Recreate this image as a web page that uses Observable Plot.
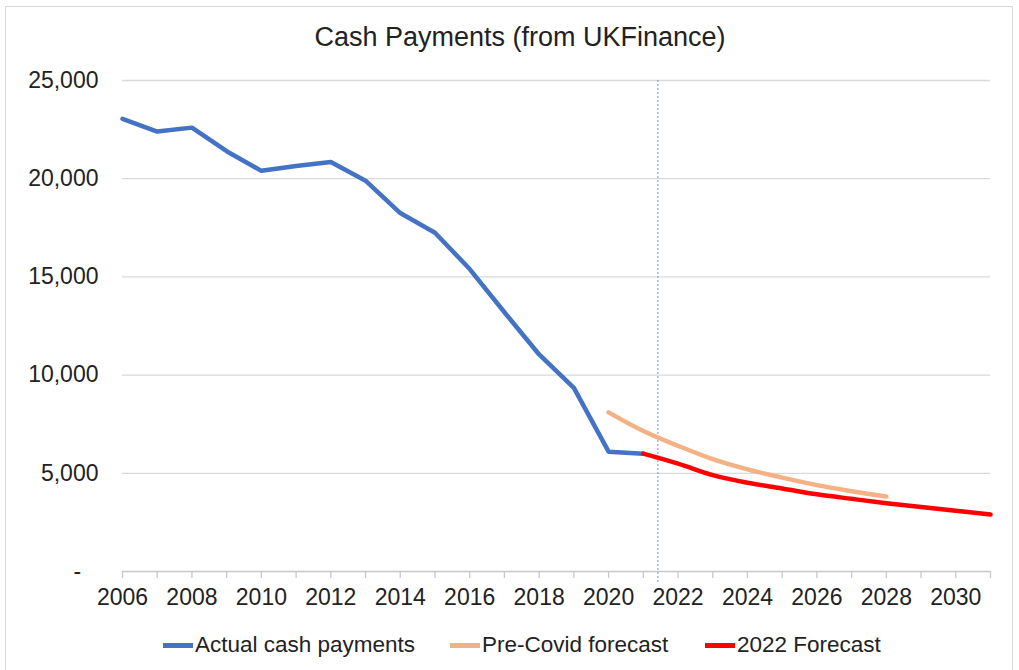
<!DOCTYPE html>
<html>
<head>
<meta charset="utf-8">
<script src="https://cdn.jsdelivr.net/npm/d3@7"></script>
<script src="https://cdn.jsdelivr.net/npm/@observablehq/plot@0.6"></script>
<style>
  html, body { margin: 0; padding: 0; background: #fff; }
  #frame { position: relative; width: 1019px; height: 670px; overflow: hidden;
           font-family: "Liberation Sans Narrow", "Arial Narrow", sans-serif; color: #222; }
  #border { position: absolute; left: 5px; top: 6px; width: 1008px; height: 700px;
            border: 1px solid #d9d9d9; box-sizing: border-box; }
  #title { position: absolute; left: 0; top: 22px; width: 1040px; text-align: center;
           font-size: 27px; color: #222; }
  #chart { position: absolute; left: 0; top: 60px; }
  #legend { position: absolute; top: 632px; left: 0; width: 1019px; height: 28px; }
  .item { position: absolute; display: flex; align-items: center; font-size: 22.5px; color: #222; }
  .sw { width: 30px; height: 5px; margin-right: 2px; }
</style>
</head>
<body>
<div id="frame">
  <div id="border"></div>
  <div id="title">Cash Payments (from UKFinance)</div>
  <div id="chart"></div>
  <div id="legend"></div>
</div>
<script>
const actualYears = [2006,2007,2008,2009,2010,2011,2012,2013,2014,2015,2016,2017,2018,2019,2020,2021];
const actualValues = [23050,22400,22600,21400,20400,20650,20850,19900,18250,17250,15400,13200,11050,9350,6100,6000];

const preCovidYears = [2020,2021,2022,2023,2024,2025,2026,2027,2028];
const preCovidValues = [8100,7150,6400,5720,5200,4780,4400,4090,3820];

const forecast2022Years = [2021,2022,2023,2024,2025,2026,2027,2028,2029,2030,2031];
const forecast2022Values = [6000,5490,4910,4520,4230,3930,3700,3480,3280,3090,2900];

const yTicks = [0,5000,10000,15000,20000,25000];
const xLabelTicks = [2006,2008,2010,2012,2014,2016,2018,2020,2022,2024,2026,2028,2030];
const xMinorTicks = d3.range(2006, 2032);
const markerYear = [2021.42];

const seriesNames = ["Actual cash payments","Pre-Covid forecast","2022 Forecast"];
const seriesColors = ["#4472C4","#F4B183","#FF0000"];

const toRows = (ys, vs) => ys.map((y, i) => ({year: y, value: vs[i]}));
const actual = toRows(actualYears, actualValues);
const pre = toRows(preCovidYears, preCovidValues);
const f22 = toRows(forecast2022Years, forecast2022Values);

const fmt = d3.format(",");
const plot = Plot.plot({
  width: 1019,
  height: 556,
  marginTop: 20,
  marginLeft: 122,
  marginRight: 29,
  marginBottom: 45,
  style: {fontFamily: '"Liberation Sans Narrow", "Arial Narrow", sans-serif', fontSize: "23px", color: "#222", background: "transparent"},
  x: {domain: [2006, 2031], type: "linear"},
  y: {domain: [0, 25000]},
  marks: [
    Plot.gridY(yTicks.filter(d => d > 0), {stroke: "#d9d9d9", strokeOpacity: 1, strokeWidth: 1.3}),
    Plot.ruleY([0], {stroke: "#c8c8c8", strokeWidth: 1.3}),
    Plot.axisX(xMinorTicks, {tickSize: 7, stroke: "#c8c8c8", strokeWidth: 1.3, tickFormat: () => "", label: null}),
    Plot.axisX(xLabelTicks, {tickSize: 0, tickPadding: 17, tickFormat: d => String(d), label: null, fill: "#222"}),
    Plot.axisY(yTicks, {tickSize: 0, tickPadding: 24, label: null, fill: "#222",
      tickFormat: d => d === 0 ? "-\u2007\u2009" : fmt(d)}),
    Plot.ruleX(markerYear, {y1: 25000, y2: 0, insetBottom: -12, stroke: "#5B8BD6", strokeWidth: 0.9, strokeDasharray: "2,2"}),
    Plot.line(actual, {x: "year", y: "value", stroke: seriesColors[0], strokeWidth: 4.5, strokeLinejoin: "round"}),
    Plot.line(pre, {x: "year", y: "value", stroke: seriesColors[1], strokeWidth: 4.5, curve: "catmull-rom", strokeLinecap: "round"}),
    Plot.line(f22, {x: "year", y: "value", stroke: seriesColors[2], strokeWidth: 4.5, curve: "catmull-rom"})
  ]
});
document.getElementById("chart").appendChild(plot);

const legendX = [163, 450, 705];
const legend = document.getElementById("legend");
seriesNames.forEach((n, i) => {
  const it = document.createElement("div");
  it.className = "item";
  it.style.left = legendX[i] + "px";
  const sw = document.createElement("span");
  sw.className = "sw";
  sw.style.background = seriesColors[i];
  const t = document.createElement("span");
  t.textContent = n;
  it.appendChild(sw); it.appendChild(t);
  legend.appendChild(it);
});
</script>
</body>
</html>
